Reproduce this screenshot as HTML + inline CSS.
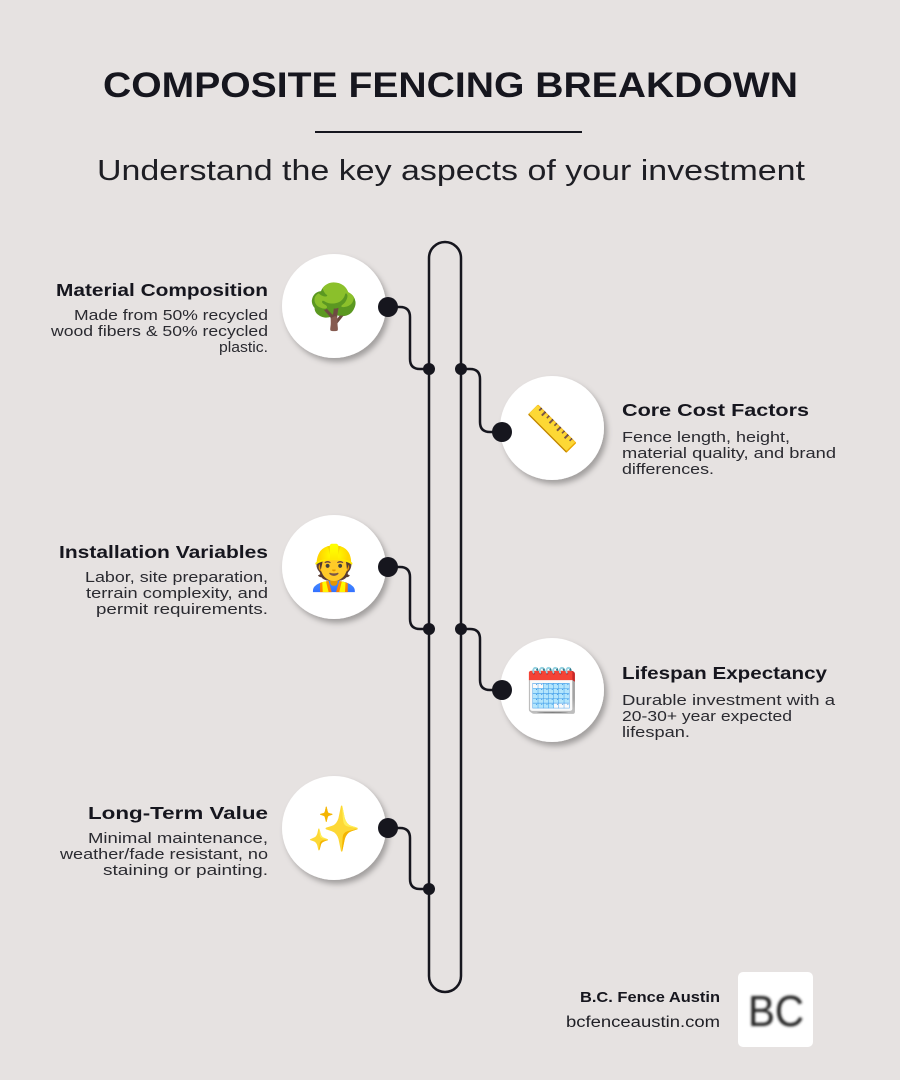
<!DOCTYPE html>
<html><head><meta charset="utf-8"><style>
html,body{margin:0;padding:0;background:#e6e2e1;}
svg{display:block;font-family:"Liberation Sans",sans-serif;}
.t{font-weight:bold;font-size:17.5px;fill:#16161e;}
.d{font-size:15px;fill:#2a2a30;}
.em{font-size:44px;font-family:"Noto Color Emoji","DejaVu Sans",sans-serif;}
</style></head><body>
<svg width="900" height="1080" viewBox="0 0 900 1080" xmlns="http://www.w3.org/2000/svg">
<defs>
<filter id="sh" x="-30%" y="-30%" width="160%" height="160%"><feDropShadow dx="3" dy="4" stdDeviation="3" flood-color="#000" flood-opacity="0.3"/></filter>
<filter id="bl"><feGaussianBlur stdDeviation="1.4"/></filter>
</defs>
<rect width="900" height="1080" fill="#e6e2e1"/>
<text x="103" y="97" font-size="35" font-weight="bold" fill="#16161e" textLength="695" lengthAdjust="spacingAndGlyphs">COMPOSITE FENCING BREAKDOWN</text>
<rect x="315" y="131" width="267" height="2" fill="#16161e"/>
<text x="97" y="180" font-size="29" fill="#1e1e24" textLength="708" lengthAdjust="spacingAndGlyphs">Understand the key aspects of your investment</text>

<path d="M429 976 V258 A16 16 0 0 1 461 258 V976 A16 16 0 0 1 429 976 Z" fill="none" stroke="#16161e" stroke-width="2.5"/>

<g fill="none" stroke="#16161e" stroke-width="2.5">
<path d="M388 307 H400 Q410 307 410 317 V359 Q410 369 420 369 H429"/>
<path d="M461 369 H470 Q480 369 480 379 V422 Q480 432 490 432 H502"/>
<path d="M388 567 H400 Q410 567 410 577 V619 Q410 629 420 629 H429"/>
<path d="M461 629 H470 Q480 629 480 639 V680 Q480 690 490 690 H502"/>
<path d="M388 828 H400 Q410 828 410 838 V879 Q410 889 420 889 H429"/>
</g>

<g fill="#fff" filter="url(#sh)">
<circle cx="334" cy="306" r="52"/>
<circle cx="552" cy="428" r="52"/>
<circle cx="334" cy="567" r="52"/>
<circle cx="552" cy="690" r="52"/>
<circle cx="334" cy="828" r="52"/>
</g>
<g fill="#16161e">
<circle cx="388" cy="307" r="10"/><circle cx="502" cy="432" r="10"/>
<circle cx="388" cy="567" r="10"/><circle cx="502" cy="690" r="10"/>
<circle cx="388" cy="828" r="10"/>
<circle cx="429" cy="369" r="6"/><circle cx="461" cy="369" r="6"/>
<circle cx="429" cy="629" r="6"/><circle cx="461" cy="629" r="6"/>
<circle cx="429" cy="889" r="6"/>
</g>

<g class="em" text-anchor="middle">
<text x="334" y="322">🌳</text>
<text x="552" y="444">📏</text>
<text x="334" y="583">👷</text>
<text x="552" y="706">🗓️</text>
<text x="334" y="844">✨</text>
</g>

<g>
<text class="t" x="56" y="296" textLength="212" lengthAdjust="spacingAndGlyphs">Material Composition</text>
<text class="d" x="74" y="320" textLength="194" lengthAdjust="spacingAndGlyphs">Made from 50% recycled</text>
<text class="d" x="51" y="336" textLength="217" lengthAdjust="spacingAndGlyphs">wood fibers &amp; 50% recycled</text>
<text class="d" x="219" y="352" textLength="49" lengthAdjust="spacingAndGlyphs">plastic.</text>
<text class="t" x="59" y="558" textLength="209" lengthAdjust="spacingAndGlyphs">Installation Variables</text>
<text class="d" x="85" y="582" textLength="183" lengthAdjust="spacingAndGlyphs">Labor, site preparation,</text>
<text class="d" x="86" y="598" textLength="182" lengthAdjust="spacingAndGlyphs">terrain complexity, and</text>
<text class="d" x="96" y="614" textLength="172" lengthAdjust="spacingAndGlyphs">permit requirements.</text>
<text class="t" x="88" y="819" textLength="180" lengthAdjust="spacingAndGlyphs">Long-Term Value</text>
<text class="d" x="88" y="843" textLength="180" lengthAdjust="spacingAndGlyphs">Minimal maintenance,</text>
<text class="d" x="60" y="859" textLength="208" lengthAdjust="spacingAndGlyphs">weather/fade resistant, no</text>
<text class="d" x="103" y="875" textLength="165" lengthAdjust="spacingAndGlyphs">staining or painting.</text>

<text class="t" x="622" y="416" textLength="187" lengthAdjust="spacingAndGlyphs">Core Cost Factors</text>
<text class="d" x="622" y="442" textLength="168" lengthAdjust="spacingAndGlyphs">Fence length, height,</text>
<text class="d" x="622" y="458" textLength="214" lengthAdjust="spacingAndGlyphs">material quality, and brand</text>
<text class="d" x="622" y="474" textLength="92" lengthAdjust="spacingAndGlyphs">differences.</text>
<text class="t" x="622" y="679" textLength="205" lengthAdjust="spacingAndGlyphs">Lifespan Expectancy</text>
<text class="d" x="622" y="705" textLength="213" lengthAdjust="spacingAndGlyphs">Durable investment with a</text>
<text class="d" x="622" y="721" textLength="170" lengthAdjust="spacingAndGlyphs">20-30+ year expected</text>
<text class="d" x="622" y="737" textLength="68" lengthAdjust="spacingAndGlyphs">lifespan.</text>
</g>

<text x="580" y="1002" font-size="15" font-weight="bold" fill="#16161e" textLength="140" lengthAdjust="spacingAndGlyphs">B.C. Fence Austin</text>
<text x="566" y="1027" font-size="15.5" fill="#1e1e24" textLength="154" lengthAdjust="spacingAndGlyphs">bcfenceaustin.com</text>
<rect x="738" y="972" width="75" height="75" rx="5" fill="#fff"/>
<text x="776" y="1026" text-anchor="middle" font-size="44" fill="#222" filter="url(#bl)" textLength="56" lengthAdjust="spacingAndGlyphs">BC</text>
</svg>
</body></html>
